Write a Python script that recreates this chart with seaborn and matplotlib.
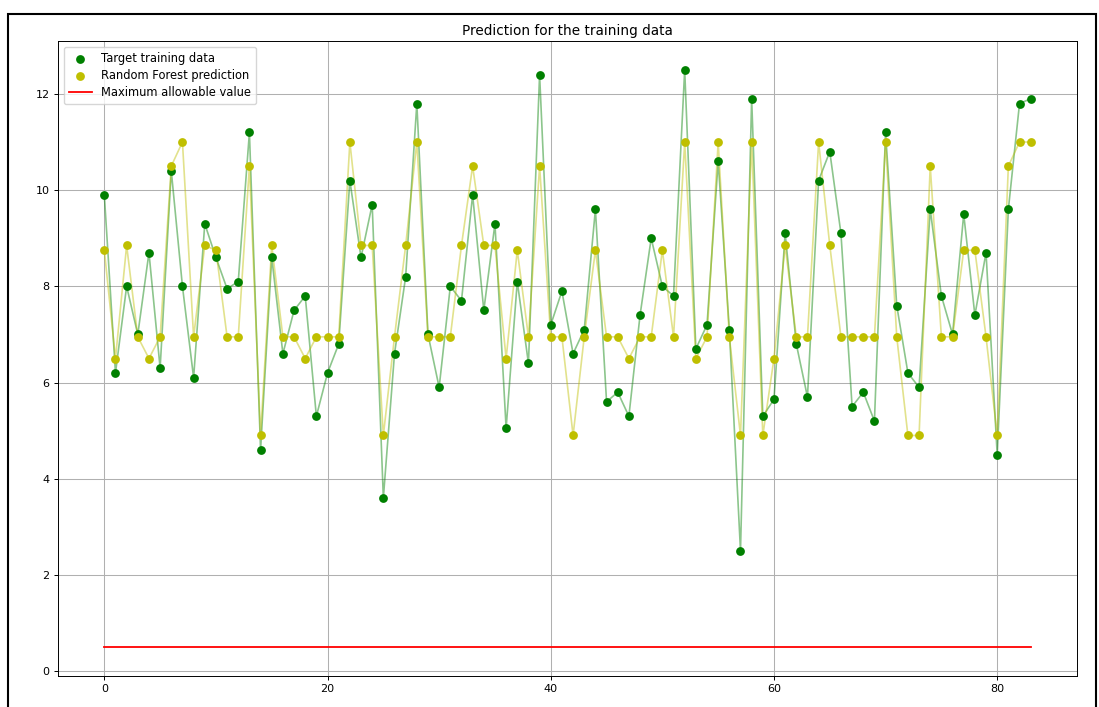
import numpy as np
import matplotlib
matplotlib.use("Agg")
import matplotlib.pyplot as plt
import seaborn as sns
from matplotlib.patches import Rectangle

# ---- data ----
target = [9.9, 6.2, 8.0, 7.0, 8.7, 6.3, 10.4, 8.0, 6.1, 9.3,
          8.6, 7.95, 8.1, 11.2, 4.6, 8.6, 6.6, 7.5, 7.8, 5.3,
          6.2, 6.8, 10.2, 8.6, 9.7, 3.6, 6.6, 8.2, 11.8, 7.0,
          5.9, 8.0, 7.7, 9.9, 7.5, 9.3, 5.05, 8.1, 6.4, 12.4,
          7.2, 7.9, 6.6, 7.1, 9.6, 5.6, 5.8, 5.3, 7.4, 9.0,
          8.0, 7.8, 12.5, 6.7, 7.2, 10.6, 7.1, 2.5, 11.9, 5.3,
          5.65, 9.1, 6.8, 5.7, 10.2, 10.8, 9.1, 5.5, 5.8, 5.2,
          11.2, 7.6, 6.2, 5.9, 9.6, 7.8, 7.0, 9.5, 7.4, 8.7,
          4.5, 9.6, 11.8, 11.9]
prediction = [8.75, 6.5, 8.85, 6.95, 6.5, 6.95, 10.5, 11.0, 6.95, 8.85,
              8.75, 6.95, 6.95, 10.5, 4.9, 8.85, 6.95, 6.95, 6.5, 6.95,
              6.95, 6.95, 11.0, 8.85, 8.85, 4.9, 6.95, 8.85, 11.0, 6.95,
              6.95, 6.95, 8.85, 10.5, 8.85, 8.85, 6.5, 8.75, 6.95, 10.5,
              6.95, 6.95, 4.9, 6.95, 8.75, 6.95, 6.95, 6.5, 6.95, 6.95,
              8.75, 6.95, 11.0, 6.5, 6.95, 11.0, 6.95, 4.9, 11.0, 4.9,
              6.5, 8.85, 6.95, 6.95, 11.0, 8.85, 6.95, 6.95, 6.95, 6.95,
              11.0, 6.95, 4.9, 4.9, 10.5, 6.95, 6.95, 8.75, 8.75, 6.95,
              4.9, 10.5, 11.0, 11.0]
max_allowable = 0.5
idx = list(range(len(target)))
limit = [max_allowable] * len(idx)

title = "Prediction for the training data"
labels = ["Target training data", "Random Forest prediction", "Maximum allowable value"]

# ---- figure ----
fig = plt.figure(figsize=(10.99, 7.07), dpi=100)
ax = fig.add_axes([58 / 1099, 1 - 676 / 707, (1077 - 58) / 1099, (676 - 41) / 707])

sns.lineplot(x=idx, y=target, ax=ax, color="green", alpha=0.45, linewidth=1.2,
             legend=False, estimator=None, sort=False)
sns.lineplot(x=idx, y=prediction, ax=ax, color="y", alpha=0.45, linewidth=1.2,
             legend=False, estimator=None, sort=False)
sns.scatterplot(x=idx, y=target, ax=ax, color="green", s=40, linewidth=0,
                label=labels[0], zorder=3)
sns.scatterplot(x=idx, y=prediction, ax=ax, color="y", s=40, linewidth=0,
                label=labels[1], zorder=3)
sns.lineplot(x=idx, y=limit, ax=ax, color="red", linewidth=1.3,
             label=labels[2], estimator=None)

ax.grid(True, color="#b0b0b0", linewidth=0.75)
ax.set_axisbelow(True)
ax.set_title(title, fontsize=9.8, pad=4)
ax.tick_params(labelsize=8, length=3, width=0.7, pad=3)
for s in ax.spines.values():
    s.set_linewidth(0.7)
ax.set_xticks([0, 20, 40, 60, 80])
ax.set_yticks([0, 2, 4, 6, 8, 10, 12])
ax.legend(loc="upper left", fontsize=8.3, framealpha=0.8, borderpad=0.45,
          handlelength=2.0, labelspacing=0.35)

# screenshot frame
fig.add_artist(Rectangle((8 / 1099, -0.05), (1096 - 8) / 1099, 1 - 14 / 707 + 0.05,
                         transform=fig.transFigure, fill=False, edgecolor="black",
                         linewidth=1.5, clip_on=False))

fig.savefig("out.png", dpi=100)
